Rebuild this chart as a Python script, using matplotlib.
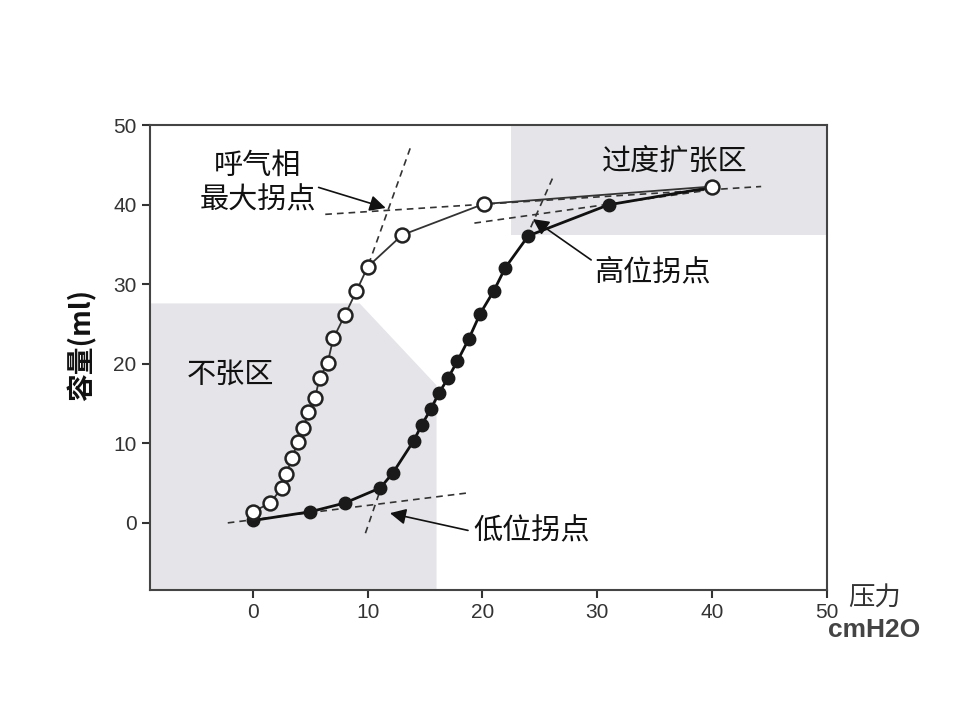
import numpy as np
import matplotlib
matplotlib.use('Agg')
import matplotlib.pyplot as plt
from matplotlib.patches import Polygon, Rectangle

plt.rcParams['font.family'] = ['Noto Sans CJK SC', 'DejaVu Sans']

# deflation limb (open circles)
open_x = [0, 1.5, 2.5, 2.9, 3.4, 3.9, 4.4, 4.8, 5.4, 5.8, 6.5, 7.0, 8.0, 9.0, 10.0, 13.0, 20.1, 40.0]
open_y = [1.4, 2.5, 4.4, 6.2, 8.1, 10.2, 11.9, 13.9, 15.7, 18.2, 20.1, 23.2, 26.1, 29.1, 32.2, 36.2, 40.1, 42.3]

# inflation limb (filled circles)
fill_x = [0, 5.0, 8.0, 11.1, 12.2, 14.0, 14.7, 15.5, 16.2, 17.0, 17.8, 18.8, 19.8, 21.0, 22.0, 24.0, 31.0, 40.0]
fill_y = [0.3, 1.4, 2.5, 4.4, 6.3, 10.3, 12.3, 14.3, 16.3, 18.2, 20.3, 23.1, 26.3, 29.2, 32.1, 36.1, 40.0, 42.2]

# tangent lines (x pair, y pair)
tangents = [
    ([13.7, 10.0], [47.1, 32.2]),   # deflation steep
    ([6.3, 44.3], [38.8, 42.3]),    # deflation flat
    ([-2.2, 18.9], [0.0, 3.8]),     # lower flat
    ([9.8, 11.3], [-1.3, 5.0]),     # lower steep
    ([26.1, 24.1], [43.3, 36.8]),   # upper steep
    ([19.3, 40.0], [37.7, 41.9]),   # upper flat
]

# shaded zones
atelect_zone = [(-9, 27.6), (9.3, 27.6), (16.0, 17.3), (16.0, -8.4), (-9, -8.4)]
overdist_zone = (22.5, 36.2, 27.5, 13.8)

xticks = [0, 10, 20, 30, 40, 50]
yticks = [0, 10, 20, 30, 40, 50]

fig = plt.figure(figsize=(9.6, 7.2), dpi=100)
ax = fig.add_axes([0.156, 0.181, 0.705, 0.645])

ax.add_patch(Polygon(atelect_zone, closed=True, facecolor='#e5e5e9', edgecolor='none', zorder=0))
x0, y0, w, h = overdist_zone
ax.add_patch(Rectangle((x0, y0), w, h, facecolor='#e5e5e9', edgecolor='none', zorder=0))

for tx, ty in tangents:
    ax.plot(tx, ty, color='#333333', lw=1.2, ls=(0, (4, 3)), zorder=2)

ax.plot(fill_x, fill_y, color='#111111', lw=2.0, marker='o', ms=9,
        mfc='#1a1a1a', mec='#1a1a1a', zorder=3)
ax.plot(open_x, open_y, color='#333333', lw=1.3, marker='o', ms=10,
        mfc='white', mec='#222222', mew=1.8, zorder=4)

txt = dict(fontsize=21, fontweight='medium', color='#111111')
arrow = dict(arrowstyle='-|>', color='#111111', lw=1.2, mutation_scale=24)
ax.annotate('呼气相\n最大拐点', xy=(11.8, 39.5), xytext=(0.4, 42.7),
            ha='center', va='center', linespacing=1.2,
            arrowprops=dict(arrow, relpos=(1.0, 0.45), shrinkA=0), **txt)
ax.annotate('高位拐点', xy=(24.2, 38.4), xytext=(34.8, 31.5),
            ha='center', va='center',
            arrowprops=dict(arrow, relpos=(0.0, 0.85), shrinkA=0), **txt)
ax.annotate('低位拐点', xy=(11.7, 1.3), xytext=(24.3, -1.1),
            ha='center', va='center',
            arrowprops=dict(arrow, relpos=(0.0, 0.5), shrinkA=2), **txt)
ax.text(36.8, 45.4, '过度扩张区', ha='center', va='center', **txt)
ax.text(-2.0, 18.6, '不张区', ha='center', va='center', **txt)

ax.set_xlim(-9, 50)
ax.set_ylim(-8.4, 50)
ax.set_xticks(xticks)
ax.set_yticks(yticks)
ax.tick_params(direction='out', length=6, width=1.5, colors='#333333', labelsize=15)
for lab in ax.get_xticklabels() + ax.get_yticklabels():
    lab.set_family(['Liberation Sans', 'DejaVu Sans'])
for s in ax.spines.values():
    s.set_color('#444444')
    s.set_linewidth(1.5)

fig.text(0.085, 0.521, '容量(ml)', rotation=90, ha='center', va='center',
         fontsize=20, fontweight='bold', color='#111111')
fig.text(0.911, 0.169, '压力', ha='center', va='center', fontsize=19, color='#333333')
fig.text(0.911, 0.125, 'cmH2O', ha='center', va='center', fontsize=19,
         fontweight='bold', color='#444444', family=['Liberation Sans', 'DejaVu Sans'])

fig.savefig('out.png', dpi=100)
